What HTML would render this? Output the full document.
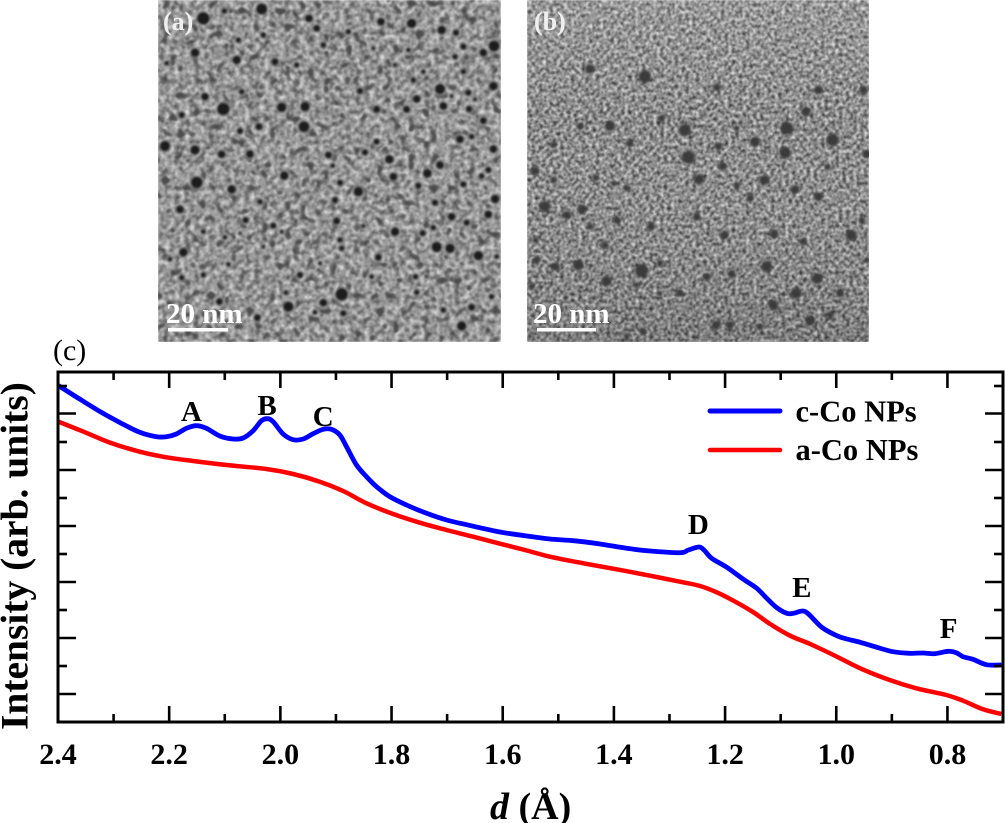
<!DOCTYPE html>
<html lang="en">
<head>
<meta charset="utf-8">
<title>Co nanoparticles TEM and diffraction intensity</title>
<style>
html,body{margin:0;padding:0;background:#fff;width:1005px;height:823px;overflow:hidden}
svg{display:block}
text{font-family:"Liberation Serif",serif;font-weight:bold;fill:#000}
</style>
</head>
<body>
<svg id="root" xmlns="http://www.w3.org/2000/svg" width="1005" height="823" viewBox="0 0 1005 823">
<defs>
<filter id="noiseA" x="0" y="0" width="100%" height="100%" color-interpolation-filters="sRGB">
<feTurbulence type="fractalNoise" baseFrequency="0.2" numOctaves="2" seed="4"/>
<feColorMatrix type="matrix" values="0.8 0 0 0 0.2  0.8 0 0 0 0.2  0.8 0 0 0 0.2  0 0 0 0 1"/>
<feGaussianBlur stdDeviation="0.7"/>
</filter>
<filter id="blobA" x="0" y="0" width="100%" height="100%" color-interpolation-filters="sRGB">
<feTurbulence type="fractalNoise" baseFrequency="0.13" numOctaves="1" seed="21"/>
<feColorMatrix type="matrix" values="0 0 0 0 0.3  0 0 0 0 0.3  0 0 0 0 0.3  -6 0 0 0 2.7"/>
<feGaussianBlur stdDeviation="0.9"/>
</filter>
<filter id="noiseB" x="0" y="0" width="100%" height="100%" color-interpolation-filters="sRGB">
<feTurbulence type="fractalNoise" baseFrequency="0.28" numOctaves="2" seed="9"/>
<feColorMatrix type="matrix" values="1.05 0 0 0 0.02  1.05 0 0 0 0.02  1.05 0 0 0 0.02  0 0 0 0 1"/>
<feGaussianBlur stdDeviation="0.5"/>
</filter>
<filter id="soft" x="-5%" y="-5%" width="110%" height="110%"><feGaussianBlur stdDeviation="1.2"/></filter>
<linearGradient id="shadeB" x1="0" y1="0" x2="0" y2="1">
<stop offset="0" stop-color="#fff" stop-opacity="0.12"/>
<stop offset="0.35" stop-color="#fff" stop-opacity="0"/>
<stop offset="1" stop-color="#000" stop-opacity="0.12"/>
</linearGradient>
<clipPath id="clipA"><rect x="158" y="0" width="343" height="342"/></clipPath>
<clipPath id="clipB"><rect x="527" y="0" width="342" height="342"/></clipPath>
<clipPath id="clipPlot"><rect x="58" y="372" width="945" height="350"/></clipPath>
</defs>

<g clip-path="url(#clipA)">
<rect x="158" y="0" width="343" height="342" fill="#949494" filter="url(#noiseA)"/>
<rect x="158" y="0" width="343" height="342" fill="#444" filter="url(#blobA)"/>
<g id="spotsA" filter="url(#soft)"></g>
</g>
<text x="163" y="30" font-size="26" style="fill:#f0f0f0">(a)</text>
<text x="166" y="323" font-size="29" style="fill:#fff">20 nm</text>
<rect x="168" y="328" width="60" height="3.5" fill="#fff"/>

<g clip-path="url(#clipB)">
<rect x="527" y="0" width="342" height="342" fill="#8c8c8c" filter="url(#noiseB)"/>
<rect x="527" y="0" width="342" height="342" fill="url(#shadeB)"/>
<g id="spotsB" filter="url(#soft)"></g>
</g>
<text x="534" y="30" font-size="26" style="fill:#f0f0f0">(b)</text>
<text x="533" y="323" font-size="29" style="fill:#fff">20 nm</text>
<rect x="537" y="328" width="59" height="3.5" fill="#fff"/>

<text x="53" y="360" font-size="30" style="font-weight:normal">(c)</text>

<g id="chart">
<g id="seriesLayer" clip-path="url(#clipPlot)"></g>
<rect x="58" y="372" width="945" height="350" fill="none" stroke="#000" stroke-width="3"/>
<g id="tickLayer"></g>
<g id="labelLayer"></g>
<g id="peakLayer"></g>
</g>

<text transform="translate(27.5,730) rotate(-90)" font-size="39.5">Intensity (arb. units)</text>
<text x="490" y="819" font-size="38"><tspan style="font-style:italic">d</tspan> (Å)</text>

<g>
<line x1="710" y1="411" x2="780" y2="411" stroke="#0000ff" stroke-width="5" stroke-linecap="round"/>
<text x="795.5" y="421.5" font-size="30.5">c-Co NPs</text>
<line x1="710" y1="450" x2="780" y2="450" stroke="#ff0000" stroke-width="4.5" stroke-linecap="round"/>
<text x="795.5" y="460" font-size="30.5">a-Co NPs</text>
</g>
</svg>

<script>
/* ---- chart data ---- */
const cCoD = [2.399,2.366,2.324,2.288,2.253,2.223,2.205,2.187,2.169,2.151,2.133,2.109,2.085,2.067,2.049,2.034,2.023,2.013,1.995,1.977,1.959,1.941,1.923,1.908,1.893,1.881,1.863,1.845,1.827,1.803,1.773,1.737,1.701,1.665,1.605,1.560,1.515,1.473,1.425,1.377,1.335,1.281,1.266,1.247,1.238,1.224,1.197,1.167,1.143,1.125,1.107,1.089,1.077,1.061,1.050,1.026,0.999,0.981,0.957,0.927,0.898,0.868,0.844,0.823,0.799,0.784,0.772,0.754,0.730,0.703];
const cCoIntensity = [336.3,324.7,310.3,299.3,289.7,285.3,285.3,288,293.7,296.3,293.7,286,283,284,291.3,301.3,303.3,300.3,288,282.3,283,288.3,292.7,292.7,287,275.3,257,245.3,235.3,225.3,217,208.7,202,197.3,190,186.3,183,181.3,178,173.7,171,169.3,172,175,172,163.7,154.7,142.7,133.7,123.7,114.3,108.7,108.7,111,108,94.7,86.3,83,79.7,74.7,70.3,68.7,69,68.3,70.7,69.3,65.3,62.7,57.3,57];
const aCoD = [2.399,2.354,2.306,2.253,2.205,2.157,2.097,2.025,1.977,1.929,1.887,1.845,1.797,1.749,1.701,1.653,1.605,1.560,1.515,1.455,1.395,1.335,1.281,1.245,1.215,1.185,1.149,1.119,1.083,1.047,1.005,0.957,0.904,0.856,0.802,0.772,0.736,0.703];
const aCoIntensity = [300.3,290.3,279.3,270.3,264.7,261,257,253,248,240.3,231,218.7,208,199.3,192,185.3,178.3,172,165.3,158.7,152.7,146.3,140.3,136,129.7,121.3,109.7,98,86.3,78,67,53.7,42,33.7,27,21.3,12.7,8];
const xMajorTicks = [2.4,2.2,2.0,1.8,1.6,1.4,1.2,1.0,0.8];
const xMinorTicks = [2.3,2.1,1.9,1.7,1.5,1.3,1.1,0.9];
const xTickLabels = ["2.4","2.2","2.0","1.8","1.6","1.4","1.2","1.0","0.8"];
const yMajorTicks = [28,84,140,196,252,308.5];
const yMinorTicks = [56,112,168,224,280,336];
const peakNames = ["A","B","C","D","E","F"];
const peakD = [2.16,2.024,1.923,1.248,1.062,0.798];
const peakIntensity = [301,307,296,188,125,84];

/* ---- axis functions ---- */
const SVGNS = "http://www.w3.org/2000/svg";
function xScale(d){ return 58 + (2.4 - d) * 555.9; }
function yScale(v){ return 722 - v; }
function smoothPath(xs, ys){
  const p = xs.map((d,i)=>[xScale(d), yScale(ys[i])]);
  let s = "M" + p[0][0].toFixed(2) + " " + p[0][1].toFixed(2);
  for(let i=0;i<p.length-1;i++){
    const a=p[Math.max(i-1,0)], b=p[i], c=p[i+1], e=p[Math.min(i+2,p.length-1)];
    s += "C"+(b[0]+(c[0]-a[0])/6).toFixed(2)+" "+(b[1]+(c[1]-a[1])/6).toFixed(2)+" "
      +(c[0]-(e[0]-b[0])/6).toFixed(2)+" "+(c[1]-(e[1]-b[1])/6).toFixed(2)+" "
      +c[0].toFixed(2)+" "+c[1].toFixed(2);
  }
  return s;
}
function tick(x1,y1,x2,y2,name){
  const l=document.createElementNS(SVGNS,"line");
  l.setAttribute("x1",x1);l.setAttribute("y1",y1);l.setAttribute("x2",x2);l.setAttribute("y2",y2);
  l.setAttribute("stroke","#000");l.setAttribute("stroke-width","2.6");
  
  
  document.getElementById("tickLayer").appendChild(l);
}

/* ---- series ---- */
const redPath=document.createElementNS(SVGNS,"path");
redPath.setAttribute("d",smoothPath(aCoD,aCoIntensity));
redPath.setAttribute("fill","none");redPath.setAttribute("stroke","#ff0000");redPath.setAttribute("stroke-width","4.5");


document.getElementById("seriesLayer").appendChild(redPath);
const bluePath=document.createElementNS(SVGNS,"path");
bluePath.setAttribute("d",smoothPath(cCoD,cCoIntensity));
bluePath.setAttribute("fill","none");bluePath.setAttribute("stroke","#0000ff");bluePath.setAttribute("stroke-width","4.8");


document.getElementById("seriesLayer").appendChild(bluePath);

/* ---- ticks ---- */
xMajorTicks.forEach(d=>{const x=xScale(d);tick(x,722,x,706,"x-major-tick");tick(x,372,x,388,"x-major-tick-top");});
xMinorTicks.forEach(d=>{const x=xScale(d);tick(x,722,x,714,"x-minor-tick");tick(x,372,x,380,"x-minor-tick-top");});
yMajorTicks.forEach(v=>{const y=yScale(v);tick(58,y,76,y,"y-major-tick");tick(1003,y,985,y,"y-major-tick-right");});
yMinorTicks.forEach(v=>{const y=yScale(v);tick(58,y,67,y,"y-minor-tick");tick(1003,y,994,y,"y-minor-tick-right");});

/* ---- tick labels ---- */
xMajorTicks.forEach((d,i)=>{
  const t=document.createElementNS(SVGNS,"text");
  t.setAttribute("x",xScale(d));t.setAttribute("y",764);
  t.setAttribute("text-anchor","middle");t.setAttribute("font-size","30");
  t.textContent=xTickLabels[i];
  
  
  document.getElementById("labelLayer").appendChild(t);
});
/* ---- peak letters ---- */
peakNames.forEach((n,i)=>{
  const t=document.createElementNS(SVGNS,"text");
  t.setAttribute("x",xScale(peakD[i]));t.setAttribute("y",yScale(peakIntensity[i]));
  t.setAttribute("text-anchor","middle");t.setAttribute("font-size","29");
  t.textContent=n;
  
  
  document.getElementById("peakLayer").appendChild(t);
});

/* ---- micrograph particles: [x, y, radius] in thirds of a pixel ---- */
const particlesA = [[160,55,18],[223,33,9],[335,27,16],[477,55,12],[500,85,11],[693,65,12],[785,70,14],[1032,138,16],[1000,158,12],[875,90,13],[595,95,9],[340,105,9],[265,120,9],[135,158,13],[260,180,13],[375,185,11],[50,190,8],[440,195,9],[940,140,10],[775,150,8],[918,98,10],[520,135,9],[670,145,7],[915,170,9],[735,195,7],[820,215,8],[940,215,9],[790,240,9],[1030,258,13],[870,267,15],[955,278,10],[905,288,7],[975,298,7],[800,297,12],[880,318,12],[957,327,10],[770,328,11],[220,327,18],[165,290,12],[275,275,9],[395,322,14],[465,320,14],[95,345,10],[630,273,10],[680,328,11],[1000,362,11],[327,380,11],[270,393,10],[462,380,16],[45,438,15],[135,450,14],[215,463,12],[300,462,12],[680,425,10],[930,418,12],[965,410,9],[1030,447,12],[645,457,10],[535,465,11],[718,478,13],[870,495,12],[403,527,13],[548,497,8],[1015,510,10],[995,528,9],[832,520,13],[730,530,12],[140,547,17],[245,568,13],[625,575,14],[570,548,10],[940,553,10],[805,557,10],[555,600,10],[1035,597,13],[855,608,10],[330,605,9],[90,628,12],[287,660,10],[560,663,11],[370,677,10],[735,695,13],[850,683,9],[818,700,10],[1015,643,12],[950,668,10],[905,650,12],[640,678,7],[100,757,13],[570,720,9],[575,745,9],[860,741,15],[900,745,14],[985,767,14],[685,772,11],[1040,770,8],[235,793,8],[160,825,9],[95,833,9],[450,825,10],[665,830,8],[797,830,9],[575,883,18],[208,905,11],[520,908,12],[415,920,15],[800,877,9],[1025,890,9],[965,922,11],[880,930,9],[580,940,10],[495,937,8],[322,953,11],[935,978,14],[408,878,8],[225,712,8],[160,695,8],[60,778,8],[340,740,7],[510,790,7],[395,695,7],[270,700,6]];
const particlesB = [[210,207,13],[375,230,17],[495,390,17],[800,385,18],[938,420,17],[795,458,16],[858,335,13],[1040,462,12],[505,472,18],[608,498,11],[537,538,14],[733,540,14],[650,558,9],[228,533,9],[45,513,12],[75,620,15],[187,628,13],[290,660,11],[530,650,11],[393,680,11],[993,705,15],[613,705,12],[762,702,12],[260,843,14],[365,812,18],[828,880,15],[892,835,15],[870,962,14],[588,975,12],[105,800,12],[175,795,15],[270,378,14],[182,378,10],[705,425,14],[595,440,10],[330,430,10],[650,385,8],[1030,270,11],[590,262,10],[895,270,12],[425,355,10],[1025,660,9],[960,880,11],[720,980,9],[635,822,11],[740,800,15],[560,830,11],[50,780,10],[420,790,9],[320,565,9],[280,550,8],[140,645,12],[48,720,8],[255,735,10],[850,725,10],[690,595,10],[825,568,12],[895,590,12],[925,500,8],[480,880,10],[760,915,14],[930,945,10],[350,855,8],[35,860,9],[1040,780,8],[630,975,11],[370,995,9],[320,1010,8],[420,880,7],[210,680,9],[100,435,9],[100,540,9]];
function drawParticles(list, layerId, ox, dark, halo, grow){
  const layer=document.getElementById(layerId);
  list.forEach(q=>{
    if(halo>0){
      const h=document.createElementNS(SVGNS,"circle");
      h.setAttribute("cx",ox+q[0]/3);h.setAttribute("cy",q[1]/3);h.setAttribute("r",q[2]/3*grow+2);
      h.setAttribute("fill","#cfcfcf");h.setAttribute("opacity",halo);
      
      
      layer.appendChild(h);
    }
    const c=document.createElementNS(SVGNS,"circle");
    c.setAttribute("cx",ox+q[0]/3);c.setAttribute("cy",q[1]/3);c.setAttribute("r",q[2]/3*grow);
    c.setAttribute("fill",dark);
    
    
    layer.appendChild(c);
  });
}
drawParticles(particlesA,"spotsA",150,"#1c1c1c",0.35,1.15);
drawParticles(particlesB,"spotsB",520,"#3a3a3a",0,1.1);
</script>
</body>
</html>
